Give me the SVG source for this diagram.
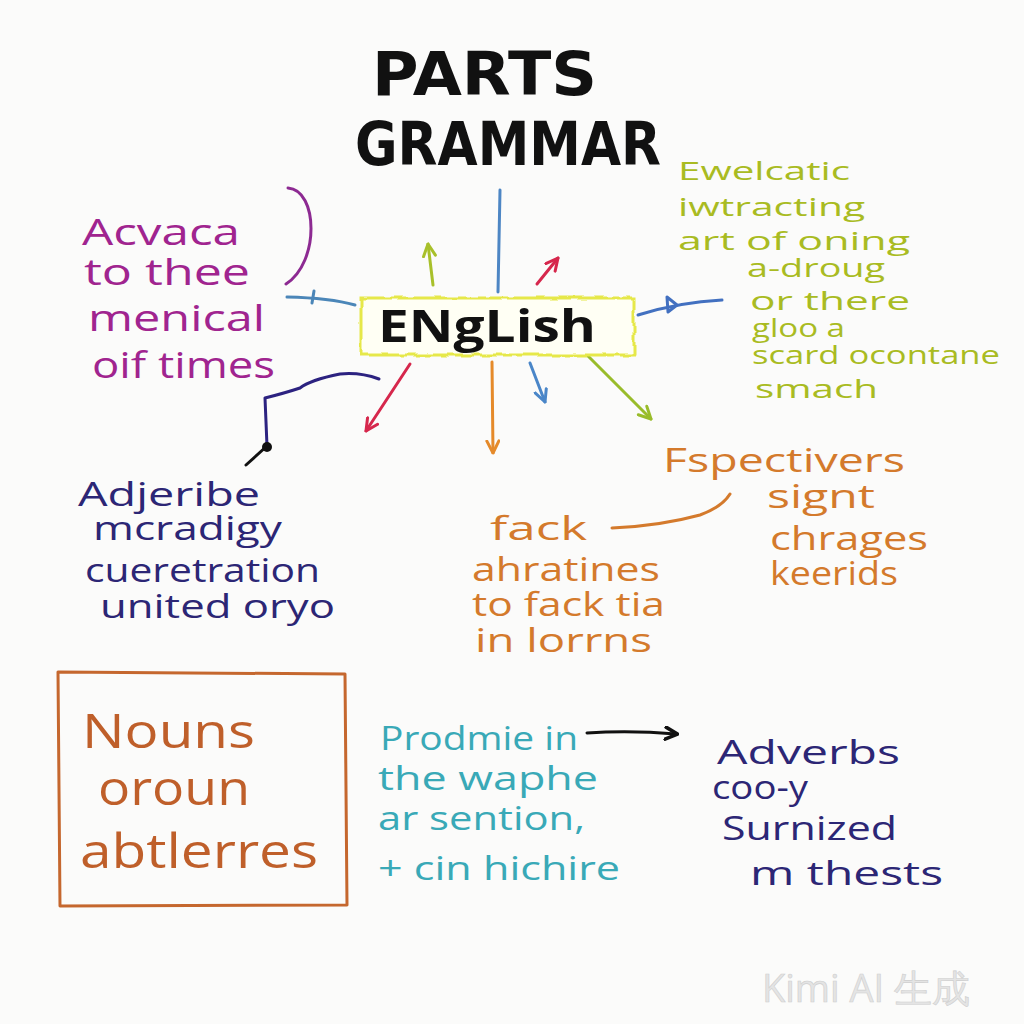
<svg xmlns="http://www.w3.org/2000/svg" width="1024" height="1024" viewBox="0 0 1024 1024">
<defs>
<filter id="wavy" x="-5%" y="-20%" width="110%" height="140%">
<feTurbulence type="fractalNoise" baseFrequency="0.1" numOctaves="1" seed="3" result="n"/>
<feDisplacementMap in="SourceGraphic" in2="n" scale="6" xChannelSelector="R" yChannelSelector="G"/>
</filter>
<marker id="ah" viewBox="0 0 10 10" refX="9" refY="5" markerWidth="5" markerHeight="5" orient="auto" markerUnits="strokeWidth">
<path d="M1,1 L9,5 L1,9" fill="none" stroke="context-stroke" stroke-width="2" stroke-linecap="round" stroke-linejoin="round"/>
</marker>
<marker id="ahb" viewBox="0 0 10 10" refX="8" refY="5" markerWidth="5" markerHeight="5" orient="auto" markerUnits="strokeWidth">
<path d="M1,1 L9,5 L1,9" fill="none" stroke="#111" stroke-width="2.4" stroke-linecap="round" stroke-linejoin="round"/>
</marker>
</defs>
<style>
text{font-family:"Open Sans","DejaVu Sans",sans-serif;}
.title{font-family:"DejaVu Sans","Open Sans",sans-serif;font-weight:bold;fill:#111;font-size:60px;}
.purple{fill:#a0248f;font-size:37px;}
.lime{fill:#a9bb22;font-size:25px;}
.navy{fill:#2c2675;font-size:32px;}
.orange{fill:#d47a2c;font-size:32px;}
.brown{fill:#bf5f2a;font-size:48px;}
.teal{fill:#39a9b7;font-size:33px;}
.line{fill:none;stroke-width:3;stroke-linecap:round;stroke-linejoin:round;}
</style>
<rect width="1024" height="1024" fill="#fbfbfa"/>

<g id="title">
<text class="title" x="372" y="95" textLength="225" lengthAdjust="spacingAndGlyphs">PARTS</text>
<text class="title" x="355" y="165" textLength="306" lengthAdjust="spacingAndGlyphs">GRAMMAR</text>
</g>

<g id="connectors">
<path class="line" d="M500 190 L498 292" stroke="#4d86c4"/>
<path class="line" d="M355 305 Q330 298 287 297" stroke="#4b86b8"/>
<path class="line" d="M314 291 L312 303" stroke="#4b86b8"/>
<path class="line" d="M638 315 Q680 302 722 300" stroke="#4270c0"/>
<path class="line" d="M667 297 L677 305 L668 312 Z" stroke="#4270c0"/>
<path class="line" d="M288 188 C318 190 320 262 286 284" stroke="#8d2a92"/>
<path class="line" d="M433 285 L428 244" stroke="#a8c02a" marker-end="url(#ah)"/>
<path class="line" d="M537 284 L558 258" stroke="#d6274c" marker-end="url(#ah)"/>
<path class="line" d="M410 364 L366 431" stroke="#d6274c" marker-end="url(#ah)"/>
<path class="line" d="M492 362 L493 453" stroke="#e58a2a" marker-end="url(#ah)"/>
<path class="line" d="M530 363 L545 402" stroke="#4a86c8" marker-end="url(#ah)"/>
<path class="line" d="M586 354 L651 419" stroke="#99bc2a" marker-end="url(#ah)"/>
<path class="line" d="M379 379 Q360 372 340 374 Q310 380 300 388 Q285 393 265 398 L267 446" stroke="#2c2280" stroke-width="3.5"/>
<path class="line" d="M268 445 L246 465" stroke="#111" stroke-width="4"/>
<circle cx="267" cy="447" r="5" fill="#111"/>
<path class="line" d="M612 528 Q660 526 700 515 Q722 507 730 494" stroke="#d47a2c"/>
<path class="line" d="M587 733 Q630 730 676 734" stroke="#111" stroke-width="3.5" marker-end="url(#ahb)"/>
</g>

<g id="english">
<rect x="361" y="298" width="273" height="57" fill="#fffff4" stroke="#e6e84a" stroke-width="3" filter="url(#wavy)"/>
<text x="378" y="342" font-family="DejaVu Sans,sans-serif" font-weight="bold" font-size="44" fill="#111" textLength="218" lengthAdjust="spacingAndGlyphs">ENgLish</text>
</g>

<g id="left-note">
<text class="purple" x="82" y="245" font-size="41" textLength="158" lengthAdjust="spacingAndGlyphs">Acvaca</text>
<text class="purple" x="84" y="285" textLength="166" lengthAdjust="spacingAndGlyphs">to thee</text>
<text class="purple" x="88" y="331" textLength="177" lengthAdjust="spacingAndGlyphs">menical</text>
<text class="purple" x="92" y="378" textLength="183" lengthAdjust="spacingAndGlyphs">oif times</text>
</g>

<g id="right-note">
<text class="lime" x="678" y="180" font-size="28" textLength="172" lengthAdjust="spacingAndGlyphs">Ewelcatic</text>
<text class="lime" x="678" y="216" font-size="27" textLength="187" lengthAdjust="spacingAndGlyphs">iwtracting</text>
<text class="lime" x="678" y="250" font-size="28" textLength="232" lengthAdjust="spacingAndGlyphs">art of oning</text>
<text class="lime" x="747" y="277" font-size="24" textLength="138" lengthAdjust="spacingAndGlyphs">a-droug</text>
<text class="lime" x="750" y="310" font-size="28" textLength="160" lengthAdjust="spacingAndGlyphs">or there</text>
<text class="lime" x="752" y="337" font-size="23" textLength="93" lengthAdjust="spacingAndGlyphs">gloo a</text>
<text class="lime" x="752" y="364" font-size="24" textLength="248" lengthAdjust="spacingAndGlyphs">scard ocontane</text>
<text class="lime" x="755" y="398" font-size="29" textLength="123" lengthAdjust="spacingAndGlyphs">smach</text>
</g>

<g id="adjective-note">
<text class="navy" x="78" y="506" font-size="37" textLength="182" lengthAdjust="spacingAndGlyphs">Adjeribe</text>
<text class="navy" x="93" y="540" textLength="189" lengthAdjust="spacingAndGlyphs">mcradigy</text>
<text class="navy" x="85" y="582" textLength="235" lengthAdjust="spacingAndGlyphs">cueretration</text>
<text class="navy" x="100" y="618" textLength="235" lengthAdjust="spacingAndGlyphs">united oryo</text>
</g>

<g id="perspective-note">
<text class="orange" x="663" y="472" font-size="37" textLength="242" lengthAdjust="spacingAndGlyphs">Fspectivers</text>
<text class="orange" x="767" y="508" textLength="108" lengthAdjust="spacingAndGlyphs">signt</text>
<text class="orange" x="770" y="550" textLength="158" lengthAdjust="spacingAndGlyphs">chrages</text>
<text class="orange" x="770" y="585" textLength="128" lengthAdjust="spacingAndGlyphs">keerids</text>
</g>

<g id="fack-note">
<text class="orange" x="490" y="540" font-size="44" textLength="97" lengthAdjust="spacingAndGlyphs">fack</text>
<text class="orange" x="472" y="581" font-size="30" textLength="188" lengthAdjust="spacingAndGlyphs">ahratines</text>
<text class="orange" x="472" y="616" font-size="30" textLength="193" lengthAdjust="spacingAndGlyphs">to fack tia</text>
<text class="orange" x="475" y="652" font-size="30" textLength="177" lengthAdjust="spacingAndGlyphs">in lorrns</text>
</g>

<g id="nouns">
<path d="M58 672 L345 674 L347 905 L60 906 Z" fill="none" stroke="#c5672e" stroke-width="3" stroke-linejoin="round"/>
<text class="brown" x="82" y="748" font-size="52" textLength="173" lengthAdjust="spacingAndGlyphs">Nouns</text>
<text class="brown" x="98" y="805" textLength="152" lengthAdjust="spacingAndGlyphs">oroun</text>
<text class="brown" x="80" y="868" textLength="238" lengthAdjust="spacingAndGlyphs">abtlerres</text>
</g>

<g id="pronoun-note">
<text class="teal" x="380" y="750" textLength="198" lengthAdjust="spacingAndGlyphs">Prodmie in</text>
<text class="teal" x="378" y="790" textLength="220" lengthAdjust="spacingAndGlyphs">the waphe</text>
<text class="teal" x="378" y="830" textLength="207" lengthAdjust="spacingAndGlyphs">ar sention,</text>
<text class="teal" x="378" y="880" textLength="242" lengthAdjust="spacingAndGlyphs">+ cin hichire</text>
</g>

<g id="adverbs">
<text class="navy" x="717" y="764" font-size="42" textLength="183" lengthAdjust="spacingAndGlyphs">Adverbs</text>
<text class="navy" x="712" y="799" font-size="26" textLength="96" lengthAdjust="spacingAndGlyphs">coo-y</text>
<text class="navy" x="722" y="840" font-size="35" textLength="175" lengthAdjust="spacingAndGlyphs">Surnized</text>
<text class="navy" x="750" y="885" font-size="40" textLength="193" lengthAdjust="spacingAndGlyphs">m thests</text>
</g>

<g id="watermark">
<text x="762" y="1002" font-family="'Noto Sans','Noto Sans CJK SC',sans-serif" font-size="38" fill="#e4e4e4" stroke="#cfcfcf" stroke-width="0.6">Kimi AI 生成</text>
</g>
</svg>
